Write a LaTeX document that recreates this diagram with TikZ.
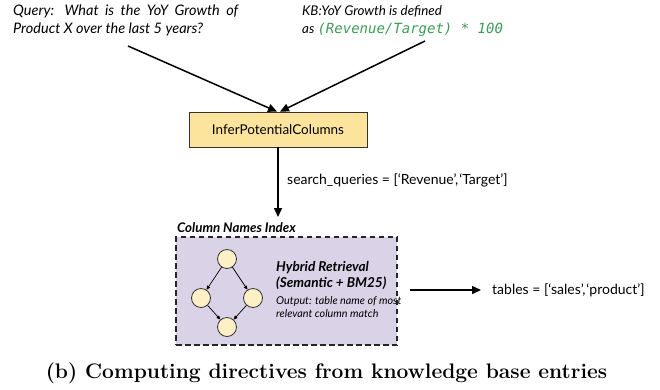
\documentclass[tikz,border=0pt]{standalone}
\usepackage{fontspec}
\setsansfont{Lato}
\renewcommand\familydefault{\sfdefault}
\newfontfamily\codefont{DejaVu Sans Mono}
\usetikzlibrary{arrows.meta}
\definecolor{boxyellow}{HTML}{FCE49C}
\definecolor{indexpurple}{HTML}{DAD3E8}
\definecolor{nodecream}{HTML}{FDF0C6}
\definecolor{codegreen}{HTML}{3E9B55}
\definecolor{edgegray}{HTML}{333333}
\tikzset{
  bigarrow/.style={line width=1.5pt, -{Triangle[length=9pt,width=8pt]}},
  smallarrow/.style={line width=0.7pt, -{Triangle[length=4pt,width=3.5pt]}},
  plain/.style={inner sep=0pt, font=\fontsize{14}{18}\selectfont},
  vertex/.style={circle, draw=edgegray, line width=0.8pt, fill=nodecream, minimum size=19pt, inner sep=0pt},
}
\begin{document}
\begin{tikzpicture}[x=1pt,y=-1pt]
\useasboundingbox (0,0) rectangle (660,389);

% input texts
\node[plain, anchor=north west, align=left, font=\fontsize{14.5}{18}\selectfont\itshape] (query) at (13,5)
  {\makebox[225pt][s]{Query: What is the YoY Growth of}\\Product X over the last 5 years?};
\node[plain, anchor=north west, align=left, font=\fontsize{13.4}{18}\selectfont\itshape] (kb) at (302,5)
  {KB:YoY Growth is defined\\as {\codefont\fontsize{14}{18}\selectfont\color{codegreen}(Revenue/Target) * 100}};

\coordinate (qtail) at (128,46);
\coordinate (kbtail) at (425,41);

% step box
\node[draw=edgegray, line width=0.8pt, fill=boxyellow, minimum width=178pt, minimum height=35pt,
      font=\fontsize{13.5}{15}\selectfont] (infer) at (278,129.5) {InferPotentialColumns};

\draw[bigarrow] (qtail) -- ([xshift=-1pt]infer.north);
\draw[bigarrow] (kbtail) -- ([xshift=2pt]infer.north);

% index box
\node[draw=black!85, dashed, dash pattern=on 5.5pt off 3.5pt, line width=1.2pt, fill=indexpurple,
      minimum width=221pt, minimum height=108pt, inner sep=0pt] (index) at (286.5,291) {};
\node[plain, anchor=west, font=\fontsize{13.3}{15}\selectfont\bfseries\itshape] (indextitle) at (177,228) {Column Names Index};

\coordinate (qhead) at (278,217);
\draw[bigarrow] (infer.south) -- (qhead);
\node[plain, anchor=west] (sq) at (287,180) {search\_queries = [‘Revenue’,\kern1pt‘Target’]};

% retrieval graph
\node[vertex] (ctop) at (227,259) {};
\node[vertex] (cleft) at (201,298) {};
\node[vertex] (cright) at (253,298) {};
\node[vertex] (cbot) at (227,327) {};
\draw[smallarrow] (ctop) -- (cleft);
\draw[smallarrow] (ctop) -- (cright);
\draw[smallarrow] (cleft) -- (cbot);
\draw[smallarrow] (cright) -- (cbot);

\node[plain, anchor=west, font=\fontsize{13.6}{15}\selectfont\bfseries\itshape] (hyb1) at (276,268) {Hybrid Retrieval};
\node[plain, anchor=west, font=\fontsize{13.6}{15}\selectfont\bfseries\itshape] (hyb2) at (276,283) {(Semantic + BM25)};
\node[plain, anchor=west, font=\fontsize{10.8}{12}\selectfont\itshape] (out1) at (276,301) {Output: table name of most};
\node[plain, anchor=west, font=\fontsize{10.8}{12}\selectfont\itshape] (out2) at (276,314) {relevant column match};

% result
\node[plain, anchor=west] (tables) at (492,290) {tables = [‘sales’,\kern1pt‘product’]};
\coordinate (ttail) at (410,290);
\draw[bigarrow, shorten >=11pt] (ttail) -- (tables.west);

% caption
\node[inner sep=0pt, font=\rmfamily\bfseries\fontsize{21}{24}\selectfont] (caption) at (326.5,373)
  {(b) Computing directives from knowledge base entries};
\end{tikzpicture}
\end{document}
